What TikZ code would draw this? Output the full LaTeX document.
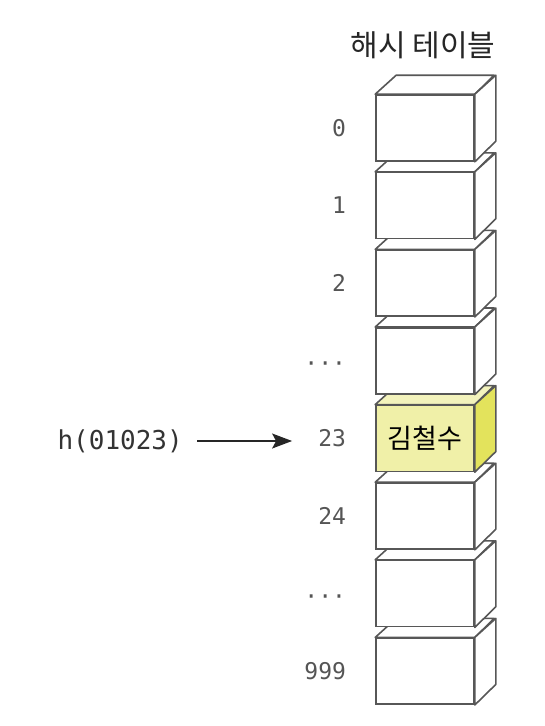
\documentclass[tikz,border=0pt]{standalone}
\usepackage{fontspec}
\newfontfamily\krfont{Noto Sans CJK KR}
\setmonofont{DejaVu Sans Mono}
\usetikzlibrary{positioning,arrows.meta}
\definecolor{edgegray}{HTML}{575757}
\definecolor{idxgray}{HTML}{555555}
\definecolor{keygray}{HTML}{333333}
\definecolor{hitfront}{HTML}{F0F0A8}
\definecolor{hittop}{HTML}{F3F3BC}
\definecolor{hitside}{HTML}{E3E35C}
\newcommand{\gapdots}{\smash{\raisebox{-11pt}{···}}}

\begin{document}
\begin{tikzpicture}[x=1pt, y=-1pt,
    slot/.style={rectangle, draw=edgegray, line width=1.6pt, fill=white, minimum width=98pt, minimum height=66pt, inner sep=0pt, node contents={}},
    hit/.style={slot, fill=hitfront, font=\krfont\fontsize{27}{30}\selectfont, node contents={김철수}},
    slot-top/.style={draw=edgegray, line width=1.6pt, fill=white, line join=round},
    slot-side/.style={slot-top},
    hit-top/.style={slot-top, fill=hittop},
    hit-side/.style={slot-top, fill=hitside},
    idx/.style={font=\ttfamily\fontsize{23}{26}\selectfont, text=idxgray, inner sep=0pt},
    title/.style={font=\krfont\fontsize{30}{34}\selectfont, text=black!85},
    keyname/.style={font=\ttfamily\fontsize{26}{30}\selectfont, text=keygray, inner sep=0pt},
    pointer/.style={line width=1.5pt, draw=black!85, -{Stealth[length=20pt,width=15pt,inset=4pt]}}
]
    \useasboundingbox (0,0) rectangle (544,726);

    \node[title] (ttl) at (423,45) {해시 테이블};

    % drawn bottom up, so each box sits over the one below
    \foreach \i/\lab/\kind in {7/999/slot, 6/\gapdots/slot, 5/24/slot, 4/23/hit, 3/\gapdots/slot, 2/2/slot, 1/1/slot, 0/0/slot} {
        \node (b\i) at (425,{128+77.6*\i}) [\kind];
        \draw[\kind-top] (b\i.north west) -- ++(21,-19) -- ++(98,0) -- (b\i.north east) -- cycle;
        \draw[\kind-side] (b\i.north east) -- ++(21,-19) -- ++(0,66) -- (b\i.south east) -- cycle;
        \node[idx, left=29pt of b\i] (n\i) {\lab};
    }

    \node[keyname, anchor=east] (key) at (183,441) {h(01023)};
    \draw[pointer] ([xshift=14pt]key.east) -- ([xshift=-26pt]key.east -| n4.west);
\end{tikzpicture}
\end{document}
